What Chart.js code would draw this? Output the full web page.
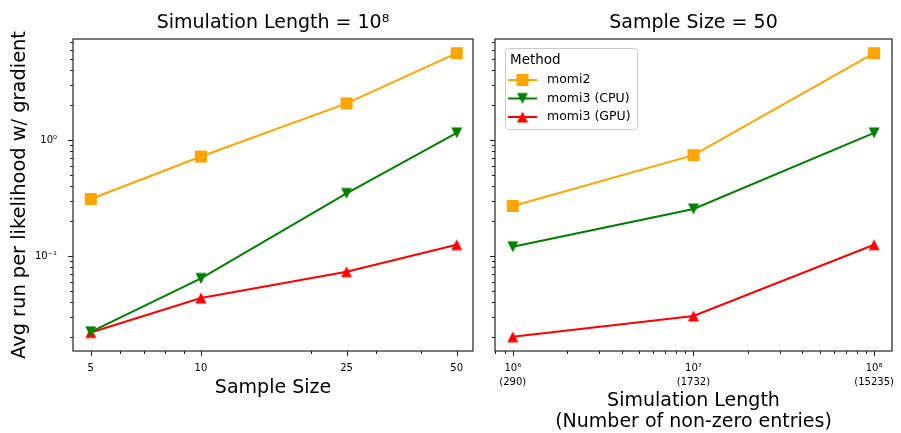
<!DOCTYPE html>
<html>
<head>
<meta charset="utf-8">
<script src="https://cdn.jsdelivr.net/npm/chart.js@4.4.1/dist/chart.umd.min.js"></script>
<style>
  body { margin: 0; background: #fff; }
  #wrap { position: relative; width: 901px; height: 433px; }
  canvas { position: absolute; top: 0; }
</style>
</head>
<body>
<div id="wrap">
  <canvas id="left" width="484" height="433" style="left:0"></canvas>
  <canvas id="right" width="417" height="433" style="left:484px"></canvas>
</div>
<script>
// data
const sampleSizes = [5, 10, 25, 50];
const simLengths = [1e6, 1e7, 1e8];
const nonZeroEntries = [290, 1732, 15235];

const momi2BySize = [0.31, 0.72, 2.07, 5.6];
const cpuBySize = [0.0222, 0.064, 0.346, 1.15];
const gpuBySize = [0.0219, 0.0434, 0.0732, 0.125];

const momi2ByLength = [0.27, 0.74, 5.6];
const cpuByLength = [0.12, 0.254, 1.15];
const gpuByLength = [0.0201, 0.0304, 0.125];

const methods = ["momi2", "momi3 (CPU)", "momi3 (GPU)"];
const colors = ["#ffa500", "#008000", "#ff0000"];
const shapes = ["s", "v", "^"];

const yMajor = [0.1, 1];
const yMinor = [0.02, 0.03, 0.04, 0.05, 0.06, 0.07, 0.08, 0.09, 0.2, 0.3, 0.4, 0.5, 0.6, 0.7, 0.8, 0.9, 2, 3, 4, 5, 6, 7];
const yLabels = {0.1: "10\u207b\u00b9", 1: "10\u2070"};
const sizeMinor = [6, 7, 8, 9, 20, 30, 40];
const lengthMinor = [8e5, 9e5, 2e6, 3e6, 4e6, 5e6, 6e6, 7e6, 8e6, 9e6, 2e7, 3e7, 4e7, 5e7, 6e7, 7e7, 8e7, 9e7];
const lengthLabels = ["10\u2076", "10\u2077", "10\u2078"];

Chart.defaults.font.family = "'DejaVu Sans'";
Chart.defaults.color = "#000";

function marker(shape, color) {
  const c = document.createElement("canvas");
  c.width = c.height = 14;
  const g = c.getContext("2d");
  g.fillStyle = color;
  g.beginPath();
  if (shape === "s") {
    g.rect(1, 1, 12, 12);
  } else if (shape === "^") {
    g.moveTo(7, 1.5); g.lineTo(12.5, 12.5); g.lineTo(1.5, 12.5);
  } else {
    g.moveTo(7, 12.5); g.lineTo(12.5, 1.5); g.lineTo(1.5, 1.5);
  }
  g.closePath();
  g.fill();
  return c;
}
const markers = shapes.map((s, i) => marker(s, colors[i]));

function datasets(xs, series) {
  return series.map((vals, i) => ({
    label: methods[i],
    data: xs.map((x, j) => ({x: x, y: vals[j]})),
    borderColor: colors[i],
    backgroundColor: colors[i],
    borderWidth: 2,
    pointStyle: markers[i],
    pointRadius: 7,
    tension: 0
  }));
}

function setTicks(major, minor) {
  return scale => {
    scale.ticks = major.map(v => ({value: v, major: true}))
      .concat(minor.map(v => ({value: v, major: false})));
  };
}

// box around the axes plus matplotlib-like outward ticks
const frame = {
  id: "frame",
  afterDraw(chart) {
    const {ctx, chartArea: a} = chart;
    ctx.save();
    ctx.strokeStyle = "#222";
    ctx.lineWidth = 1;
    const xs = chart.scales.x, ys = chart.scales.y;
    xs.ticks.forEach(t => {
      const p = Math.round(xs.getPixelForValue(t.value)) + 0.5;
      if (p < a.left - 1 || p > a.right + 1) return;
      ctx.beginPath();
      ctx.moveTo(p, a.bottom);
      ctx.lineTo(p, a.bottom + (t.major ? 5 : 3));
      ctx.stroke();
    });
    ys.ticks.forEach(t => {
      const p = Math.round(ys.getPixelForValue(t.value)) + 0.5;
      if (p < a.top - 1 || p > a.bottom + 1) return;
      ctx.beginPath();
      ctx.moveTo(a.left, p);
      ctx.lineTo(a.left - (t.major ? 5 : 3), p);
      ctx.stroke();
    });
    ctx.lineWidth = 1.2;
    ctx.strokeRect(a.left, a.top, a.right - a.left, a.bottom - a.top);
    ctx.restore();
  }
};

// legend in the upper left of the right panel
const legendBox = {
  id: "legendBox",
  afterDraw(chart) {
    const {ctx, chartArea: a} = chart;
    const x0 = a.left + 10, y0 = a.top + 9, w = 132, h = 81;
    ctx.save();
    ctx.fillStyle = "rgba(255,255,255,0.8)";
    ctx.strokeStyle = "#cccccc";
    ctx.lineWidth = 1;
    ctx.beginPath();
    ctx.roundRect(x0 + 0.5, y0 + 0.5, w, h, 3);
    ctx.fill();
    ctx.stroke();
    ctx.fillStyle = "#000";
    ctx.textBaseline = "middle";
    ctx.font = "13.5px 'DejaVu Sans'";
    ctx.fillText("Method", x0 + 5, y0 + 12);
    ctx.font = "12.5px 'DejaVu Sans'";
    chart.data.datasets.forEach((ds, i) => {
      const y = y0 + 32 + i * 18.5;
      ctx.strokeStyle = ds.borderColor;
      ctx.lineWidth = 2;
      ctx.beginPath();
      ctx.moveTo(x0 + 3, y);
      ctx.lineTo(x0 + 32, y);
      ctx.stroke();
      ctx.drawImage(markers[i], x0 + 17.5 - 7, y - 7);
      ctx.fillStyle = "#000";
      ctx.fillText(ds.label, x0 + 42, y);
    });
    ctx.restore();
  }
};

const yRange = {min: 0.01517, max: 7.42};
const noGrid = {display: false, drawTicks: false};

new Chart(document.getElementById("left"), {
  type: "line",
  data: {datasets: datasets(sampleSizes, [momi2BySize, cpuBySize, gpuBySize])},
  options: {
    responsive: false,
    animation: false,
    layout: {padding: {left: 0, right: 11, top: 0, bottom: 0}},
    plugins: {
      legend: {display: false},
      tooltip: {enabled: false},
      title: {
        display: true,
        fullSize: false,
        text: "Simulation Length = 10\u2078",
        font: {size: 19, weight: "normal", lineHeight: 1.2},
        color: "#000",
        padding: {top: 12, bottom: 4.2}
      }
    },
    scales: {
      x: {
        type: "logarithmic",
        min: 4.47, max: 55.4,
        afterBuildTicks: setTicks(sampleSizes, sizeMinor),
        afterFit: s => { s.height = 82; },
        grid: noGrid,
        border: {display: false},
        ticks: {
          autoSkip: false, maxRotation: 0, padding: 11,
          font: {size: 10},
          callback: v => sampleSizes.includes(v) ? String(v) : ""
        },
        title: {
          display: true, text: "Sample Size",
          font: {size: 19, lineHeight: 1.2},
          padding: {top: 0, bottom: 34}
        }
      },
      y: {
        type: "logarithmic",
        min: yRange.min, max: yRange.max,
        afterBuildTicks: setTicks(yMajor, yMinor),
        afterFit: s => { s.width = 73; },
        grid: noGrid,
        border: {display: false},
        ticks: {
          autoSkip: false, padding: 16,
          font: {size: 10},
          callback: v => yLabels[v] || ""
        },
        title: {
          display: true, text: "Avg run per likelihood w/ gradient",
          font: {size: 19.4, lineHeight: 1.2},
          padding: {top: 8, bottom: 0}
        }
      }
    }
  },
  plugins: [frame]
});

new Chart(document.getElementById("right"), {
  type: "line",
  data: {datasets: datasets(simLengths, [momi2ByLength, cpuByLength, gpuByLength])},
  options: {
    responsive: false,
    animation: false,
    layout: {padding: {left: 0, right: 5, top: 0, bottom: 0}},
    plugins: {
      legend: {display: false},
      tooltip: {enabled: false},
      title: {
        display: true,
        fullSize: false,
        text: "Sample Size = 50",
        font: {size: 19, weight: "normal", lineHeight: 1.2},
        color: "#000",
        padding: {top: 12, bottom: 4.2}
      }
    },
    scales: {
      x: {
        type: "logarithmic",
        min: 7.97e5, max: 1.256e8,
        afterBuildTicks: setTicks(simLengths, lengthMinor),
        afterFit: s => { s.height = 82; },
        grid: noGrid,
        border: {display: false},
        ticks: {
          autoSkip: false, maxRotation: 0, padding: 10,
          font: {size: 10, lineHeight: 1.4},
          callback: v => {
            const i = simLengths.indexOf(v);
            return i < 0 ? "" : [lengthLabels[i], "(" + nonZeroEntries[i] + ")"];
          }
        },
        title: {
          display: true,
          text: ["Simulation Length", "(Number of non-zero entries)"],
          font: {size: 19, lineHeight: 1.12},
          padding: {top: 0, bottom: 0}
        }
      },
      y: {
        type: "logarithmic",
        min: yRange.min, max: yRange.max,
        afterBuildTicks: setTicks(yMajor, yMinor),
        afterFit: s => { s.width = 11; },
        grid: noGrid,
        border: {display: false},
        ticks: {autoSkip: false, callback: () => ""}
      }
    }
  },
  plugins: [frame, legendBox]
});
</script>
</body>
</html>
